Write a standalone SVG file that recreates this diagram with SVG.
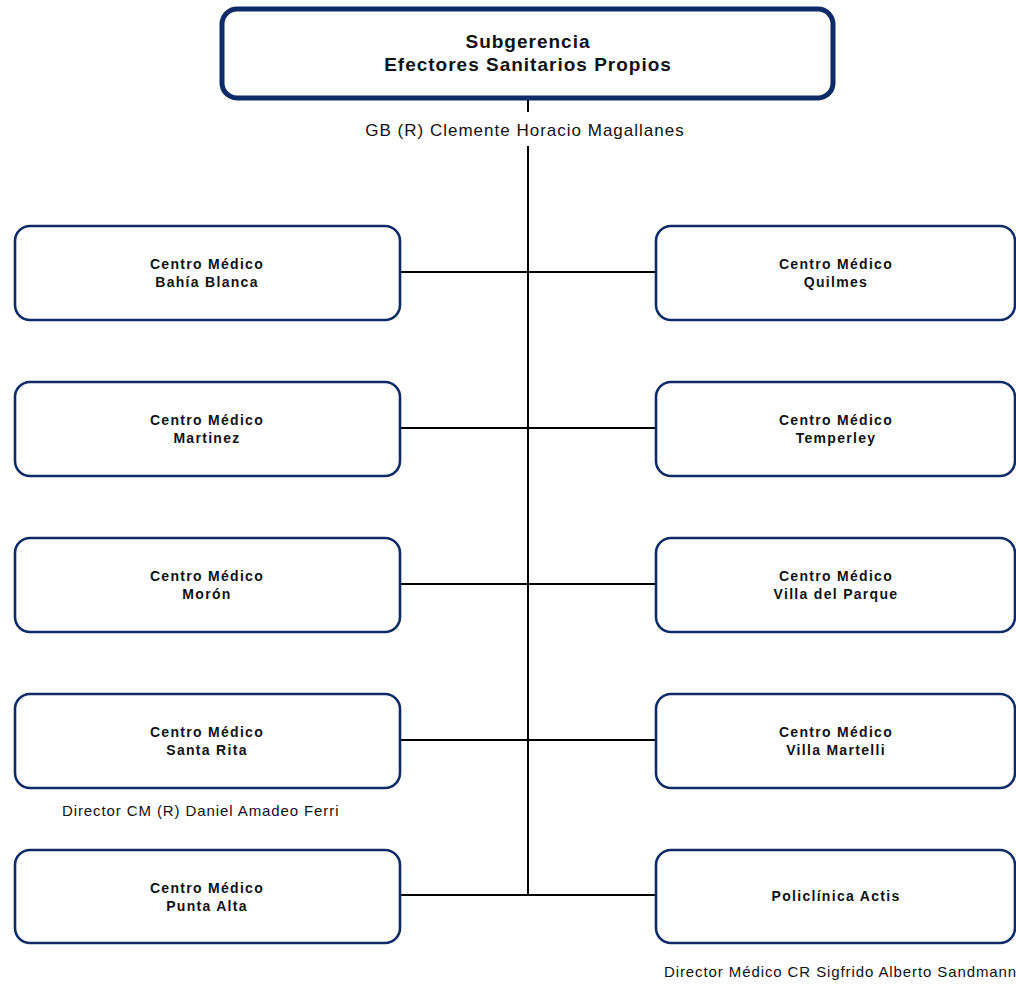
<svg xmlns="http://www.w3.org/2000/svg" width="1016" height="985" viewBox="0 0 1016 985">
<style>
.box{fill:#fff;stroke:#0d2b66;stroke-width:2.6}
.top{fill:#fff;stroke:#0d2b66;stroke-width:5}
.ln{stroke:#000;stroke-width:2;fill:none}
.t{font-family:"Liberation Sans",Arial,sans-serif;font-size:14px;font-weight:bold;fill:#111;text-anchor:middle;letter-spacing:1.3px}
.tt{font-family:"Liberation Sans",Arial,sans-serif;font-size:19px;font-weight:bold;fill:#111;text-anchor:middle;letter-spacing:1px}
.n{font-family:"Liberation Sans",Arial,sans-serif;font-size:17px;fill:#111;letter-spacing:1px}
.s{font-family:"Liberation Sans",Arial,sans-serif;font-size:15px;fill:#111;letter-spacing:0.9px}
</style>
<rect width="1016" height="985" fill="#fff"/>
<g id="connectors">
<line class="ln" x1="528" y1="99" x2="528" y2="112"/>
<line class="ln" x1="528" y1="146" x2="528" y2="895"/>
<line class="ln" x1="400" y1="272" x2="656" y2="272"/>
<line class="ln" x1="400" y1="428" x2="656" y2="428"/>
<line class="ln" x1="400" y1="584" x2="656" y2="584"/>
<line class="ln" x1="400" y1="740" x2="656" y2="740"/>
<line class="ln" x1="400" y1="895" x2="656" y2="895"/>
</g>
<g id="top">
<rect class="top" x="222" y="9" width="611" height="89" rx="15"/>
<text class="tt" x="528" y="48">Subgerencia</text>
<text class="tt" x="528" y="71">Efectores Sanitarios Propios</text>
<text class="n" x="525" y="136" text-anchor="middle">GB (R) Clemente Horacio Magallanes</text>
</g>
<g id="bahia"><rect class="box" x="15" y="226" width="385" height="94" rx="15"/><text class="t" x="207" y="269">Centro Médico</text><text class="t" x="207" y="287">Bahía Blanca</text></g>
<g id="martinez"><rect class="box" x="15" y="382" width="385" height="94" rx="15"/><text class="t" x="207" y="425">Centro Médico</text><text class="t" x="207" y="443">Martinez</text></g>
<g id="moron"><rect class="box" x="15" y="538" width="385" height="94" rx="15"/><text class="t" x="207" y="581">Centro Médico</text><text class="t" x="207" y="599">Morón</text></g>
<g id="santarita"><rect class="box" x="15" y="694" width="385" height="94" rx="15"/><text class="t" x="207" y="737">Centro Médico</text><text class="t" x="207" y="755">Santa Rita</text>
<text class="s" x="62" y="816">Director CM (R) Daniel Amadeo Ferri</text></g>
<g id="puntaalta"><rect class="box" x="15" y="850" width="385" height="93" rx="15"/><text class="t" x="207" y="893">Centro Médico</text><text class="t" x="207" y="911">Punta Alta</text></g>
<g id="quilmes"><rect class="box" x="656" y="226" width="359" height="94" rx="15"/><text class="t" x="836" y="269">Centro Médico</text><text class="t" x="836" y="287">Quilmes</text></g>
<g id="temperley"><rect class="box" x="656" y="382" width="359" height="94" rx="15"/><text class="t" x="836" y="425">Centro Médico</text><text class="t" x="836" y="443">Temperley</text></g>
<g id="villadelparque"><rect class="box" x="656" y="538" width="359" height="94" rx="15"/><text class="t" x="836" y="581">Centro Médico</text><text class="t" x="836" y="599">Villa del Parque</text></g>
<g id="villamartelli"><rect class="box" x="656" y="694" width="359" height="94" rx="15"/><text class="t" x="836" y="737">Centro Médico</text><text class="t" x="836" y="755">Villa Martelli</text></g>
<g id="actis"><rect class="box" x="656" y="850" width="359" height="93" rx="15"/><text class="t" x="836" y="901">Policlínica Actis</text>
<text class="s" x="664" y="977">Director Médico CR Sigfrido Alberto Sandmann</text></g>
</svg>
